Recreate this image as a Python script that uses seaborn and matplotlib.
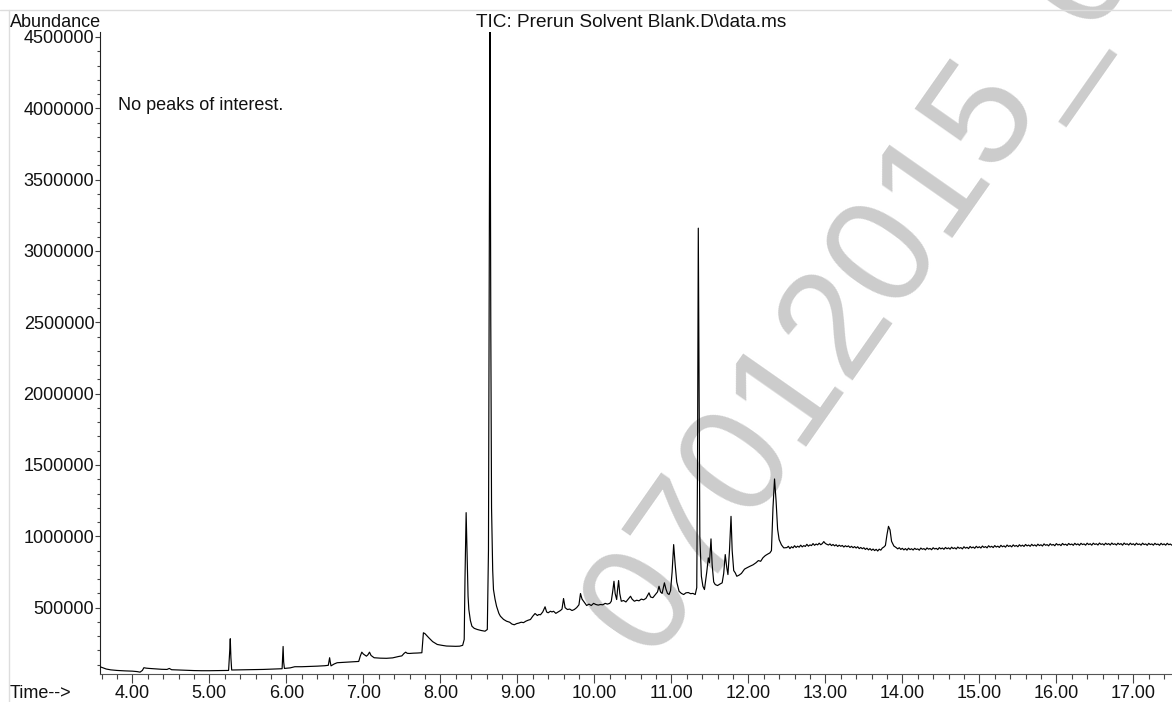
import matplotlib
matplotlib.use("Agg")
import matplotlib.pyplot as plt
from matplotlib.ticker import MultipleLocator, FormatStrFormatter, FuncFormatter
from matplotlib.lines import Line2D
import pandas as pd
import seaborn as sns

# ---- data (time in min, abundance in thousands) ----
t_early = [3.58, 3.62, 3.66, 3.72, 3.80, 3.90, 4.00, 4.06, 4.10, 4.13,
           4.15, 4.18, 4.22, 4.30, 4.38, 4.45, 4.48, 4.51, 4.60, 4.70,
           4.80, 4.90, 5.00, 5.10, 5.20, 5.25, 5.265, 5.272, 5.28, 5.29,
           5.40, 5.50, 5.60, 5.70, 5.80, 5.90, 5.945, 5.952, 5.958, 5.965,
           5.975, 6.05, 6.11, 6.20, 6.30, 6.40, 6.50, 6.545, 6.555, 6.562,
           6.57, 6.58, 6.62, 6.66, 6.75, 6.85, 6.94, 6.96, 6.98, 7.00,
           7.04, 7.06, 7.08, 7.10, 7.14, 7.22, 7.30, 7.38, 7.46, 7.50,
           7.53, 7.55, 7.57, 7.60, 7.65, 7.70, 7.76]
a_early = [86, 78, 70, 64, 60, 57, 55, 52, 48, 60,
           79, 76, 74, 71, 68, 67, 74, 65, 63, 61,
           59, 58, 58, 59, 60, 60, 200, 282, 150, 63,
           64, 65, 66, 67, 69, 71, 72, 160, 228, 120,
           74, 78, 86, 86, 88, 90, 93, 96, 130, 149,
           120, 92, 105, 114, 117, 120, 123, 160, 188, 175,
           160, 170, 188, 165, 149, 146, 145, 148, 158, 162,
           180, 188, 180, 179, 181, 182, 184]

t_mid = [7.78, 7.80, 7.85, 7.90, 7.96, 8.02, 8.08, 8.13, 8.20, 8.25,
         8.29, 8.31, 8.32, 8.335, 8.35, 8.36, 8.37, 8.39, 8.41, 8.44,
         8.48, 8.53, 8.58, 8.61, 8.625, 8.635, 8.645, 8.655, 8.665, 8.68,
         8.69, 8.71, 8.73, 8.76, 8.78]
a_mid = [324, 318, 289, 262, 242, 236, 231, 230, 229, 230,
         236, 277, 700, 1166, 800, 580, 487, 410, 370, 355,
         347, 340, 335, 347, 900, 3000, 4800, 2500, 1200, 760,
         627, 560, 510, 460, 440]

t_main = [8.82, 8.86, 8.90, 8.93, 8.96, 8.99, 9.02, 9.05, 9.08, 9.11,
          9.14, 9.17, 9.20, 9.23, 9.26, 9.28, 9.30, 9.33, 9.36, 9.38,
          9.40, 9.43, 9.45, 9.47, 9.50, 9.53, 9.56, 9.58, 9.60, 9.62,
          9.65, 9.68, 9.71, 9.74, 9.77, 9.80, 9.82, 9.84, 9.86, 9.88,
          9.90, 9.93, 9.96, 9.99, 10.02, 10.05, 10.08, 10.11, 10.14, 10.17,
          10.20, 10.22, 10.24, 10.255, 10.27, 10.29, 10.30, 10.315, 10.33, 10.35,
          10.38, 10.41, 10.44, 10.47, 10.49, 10.52, 10.55, 10.58, 10.61, 10.64,
          10.67, 10.69, 10.71, 10.73, 10.76, 10.79, 10.82, 10.84, 10.86, 10.88,
          10.91, 10.93, 10.95, 10.97, 10.99, 11.01, 11.03, 11.05, 11.07, 11.10,
          11.13, 11.16, 11.19, 11.22, 11.25, 11.28, 11.31, 11.33, 11.34, 11.35,
          11.36, 11.37, 11.39, 11.41, 11.43, 11.46, 11.48, 11.495, 11.515, 11.53,
          11.55, 11.57, 11.60, 11.63, 11.66, 11.68, 11.70, 11.72, 11.735, 11.755,
          11.775, 11.79, 11.81, 11.83, 11.85, 11.88, 11.91, 11.95, 11.98, 12.02,
          12.06, 12.10, 12.13, 12.16, 12.19, 12.22, 12.25, 12.28, 12.30, 12.32,
          12.34, 12.36, 12.38, 12.40, 12.43, 12.46]
a_main = [418, 405, 398, 385, 380, 388, 392, 398, 395, 405,
          412, 417, 440, 459, 445, 452, 450, 470, 506, 470,
          464, 475, 470, 475, 460, 470, 480, 490, 564, 500,
          487, 490, 480, 487, 500, 520, 599, 560, 545, 530,
          515, 525, 515, 530, 522, 518, 522, 520, 530, 525,
          530, 545, 620, 685, 600, 557, 620, 690, 600, 545,
          550, 540, 560, 580, 560, 545, 552, 548, 560, 555,
          565, 585, 604, 575, 570, 590, 610, 650, 610, 600,
          674, 630, 600, 592, 620, 750, 942, 800, 680, 615,
          600, 592, 604, 606, 598, 600, 592, 640, 1500, 3160,
          2000, 1000, 720, 650, 627, 750, 849, 814, 982, 800,
          680, 662, 655, 665, 674, 740, 872, 780, 732, 900,
          1140, 900, 760, 744, 720, 728, 740, 770, 779, 790,
          800, 815, 830, 825, 850, 865, 875, 884, 900, 1200,
          1402, 1250, 1050, 977, 940, 919]

late_pairs = [
    (12.50, 921), (12.52, 930), (12.54, 914), (12.56, 927), (12.58, 919), (12.60, 934), (12.62, 922), (12.64, 931), (12.66, 924), (12.68, 938),
    (12.70, 926), (12.72, 935), (12.74, 929), (12.76, 944), (12.78, 931), (12.80, 940), (12.82, 935), (12.84, 949), (12.86, 937), (12.88, 946),
    (12.90, 940), (12.92, 952), (12.94, 941), (12.96, 949), (12.98, 963), (13.00, 950), (13.02, 944), (13.04, 939), (13.06, 947), (13.08, 935),
    (13.10, 943), (13.12, 933), (13.14, 941), (13.16, 929), (13.18, 938), (13.20, 930), (13.22, 936), (13.24, 925), (13.26, 934), (13.28, 927),
    (13.30, 933), (13.32, 922), (13.34, 930), (13.36, 920), (13.38, 928), (13.40, 918), (13.42, 927), (13.44, 914), (13.46, 922), (13.48, 913),
    (13.50, 920), (13.52, 908), (13.54, 917), (13.56, 905), (13.58, 914), (13.60, 902), (13.62, 911), (13.64, 900), (13.66, 909), (13.68, 897),
    (13.70, 910), (13.72, 903), (13.74, 918), (13.76, 925),
    (13.78, 936), (13.80, 1010), (13.82, 1070), (13.84, 1045), (13.86, 965), (13.89, 932),
    (13.92, 921), (13.94, 912), (13.96, 920), (13.98, 908), (14.00, 916), (14.02, 905), (14.04, 914), (14.06, 903), (14.08, 917), (14.10, 907),
    (14.12, 913), (14.14, 904), (14.16, 916), (14.18, 908), (14.20, 912), (14.22, 903), (14.24, 918), (14.26, 909), (14.28, 914), (14.30, 905),
    (14.32, 919), (14.34, 910), (14.36, 915), (14.38, 906), (14.40, 920), (14.42, 911), (14.44, 916), (14.46, 907), (14.48, 921), (14.50, 912),
    (14.52, 918), (14.54, 909), (14.56, 922), (14.58, 913), (14.60, 919), (14.62, 910), (14.64, 924), (14.66, 914), (14.68, 920), (14.70, 911),
    (14.72, 925), (14.74, 916), (14.76, 921), (14.78, 912), (14.80, 927), (14.82, 917), (14.84, 923), (14.86, 914), (14.88, 929), (14.90, 919),
    (14.92, 925), (14.94, 916), (14.96, 930), (14.98, 920), (15.00, 927), (15.02, 918), (15.04, 932), (15.06, 922), (15.08, 928), (15.10, 919),
    (15.12, 934), (15.14, 924), (15.16, 930), (15.18, 921), (15.20, 935), (15.22, 925), (15.24, 931), (15.26, 922), (15.28, 937), (15.30, 927),
    (15.32, 933), (15.34, 924), (15.36, 939), (15.38, 929), (15.40, 935), (15.42, 926), (15.44, 940), (15.46, 930), (15.48, 936), (15.50, 927),
    (15.52, 941), (15.54, 931), (15.56, 938), (15.58, 929), (15.60, 943), (15.62, 933), (15.64, 939), (15.66, 930), (15.68, 944), (15.70, 934),
    (15.72, 940), (15.74, 931), (15.76, 945), (15.78, 935), (15.80, 941), (15.82, 932), (15.84, 947), (15.86, 937), (15.88, 942), (15.90, 933),
    (15.92, 948), (15.94, 938), (15.96, 943), (15.98, 934), (16.00, 949), (16.02, 939), (16.04, 944), (16.06, 935), (16.08, 950), (16.10, 940),
    (16.12, 945), (16.14, 936), (16.16, 950), (16.18, 941), (16.20, 946), (16.22, 937), (16.24, 951), (16.26, 941), (16.28, 947), (16.30, 937),
    (16.32, 951), (16.34, 942), (16.36, 947), (16.38, 938), (16.40, 952), (16.42, 942), (16.44, 948), (16.46, 938), (16.48, 952), (16.50, 943),
    (16.52, 948), (16.54, 939), (16.56, 953), (16.58, 943), (16.60, 948), (16.62, 939), (16.64, 952), (16.66, 943), (16.68, 949), (16.70, 939),
    (16.72, 953), (16.74, 943), (16.76, 948), (16.78, 939), (16.80, 952), (16.82, 943), (16.84, 949), (16.86, 938), (16.88, 953), (16.90, 943),
    (16.92, 948), (16.94, 939), (16.96, 952), (16.98, 942), (17.00, 948), (17.02, 938), (17.04, 952), (17.06, 942), (17.08, 947), (17.10, 938),
    (17.12, 952), (17.14, 942), (17.16, 947), (17.18, 937), (17.20, 951), (17.22, 942), (17.24, 947), (17.26, 938), (17.28, 951), (17.30, 942),
    (17.32, 946), (17.34, 937), (17.36, 951), (17.38, 941), (17.40, 947), (17.42, 938), (17.44, 951), (17.46, 941), (17.48, 946), (17.50, 938),
    (17.52, 945),
]
t_late = [p[0] for p in late_pairs]
a_late = [p[1] for p in late_pairs]

x_ticks = [4, 5, 6, 7, 8, 9, 10, 11, 12, 13, 14, 15, 16, 17]
y_ticks = [500000, 1000000, 1500000, 2000000, 2500000, 3000000, 3500000, 4000000, 4500000]

title_text = "TIC: Prerun Solvent Blank.D\\data.ms"
note_text = "No peaks of interest."
watermark_text = "07012015_0"

# ---- build table ----
times = t_early + t_mid + t_main + t_late
abund = [v * 1000 for v in (a_early + a_mid + a_main + a_late)]
df = pd.DataFrame({"time": times, "abundance": abund})

sns.set_style("ticks")
plt.rcParams["font.family"] = ["Liberation Sans", "DejaVu Sans"]

W, H = 1172, 702
fig = plt.figure(figsize=(W / 100, H / 100), dpi=100)
fig.patch.set_facecolor("white")
ax = fig.add_axes([100 / W, 1 - 674 / H, 1 - 100 / W, (674 - 32) / H])
ax.set_facecolor("none")

sns.lineplot(data=df, x="time", y="abundance", ax=ax, color="black",
             linewidth=0.85, estimator=None, sort=False, zorder=3)

ax.set_xlim(3.58, 17.502)
ax.set_ylim(35000, 4535000)
ax.set_xlabel("")
ax.set_ylabel("")

ax.set_xticks(x_ticks)
ax.xaxis.set_minor_locator(MultipleLocator(0.2))
ax.xaxis.set_major_formatter(FormatStrFormatter("%.2f"))
ax.set_yticks(y_ticks)
ax.yaxis.set_minor_locator(MultipleLocator(100000))
ax.yaxis.set_major_formatter(FuncFormatter(lambda v, p: f"{int(round(v))}"))

for s in ["top", "right"]:
    ax.spines[s].set_visible(False)
ax.spines["left"].set_color("#222222")
ax.spines["left"].set_linewidth(0.8)
ax.spines["bottom"].set_color("#555555")
ax.spines["bottom"].set_linewidth(0.8)

ax.tick_params(axis="x", which="major", length=6.2, width=0.8, pad=1.9,
               direction="out", labelsize=13, color="#444444", labelcolor="#111111")
ax.tick_params(axis="x", which="minor", length=3.4, width=0.8, direction="out",
               color="#444444")
ax.tick_params(axis="y", which="major", length=3.6, width=0.8, pad=0.5,
               direction="out", labelsize=13, color="#444444", labelcolor="#111111")
ax.tick_params(axis="y", which="minor", length=2.4, width=0.8, direction="out",
               color="#444444")

# watermark (behind the trace)
ax.text(651 / W, 1 - 660 / H, watermark_text, transform=fig.transFigure,
        rotation=55, rotation_mode="anchor", ha="left", va="baseline",
        fontsize=110, color="#cccccc", zorder=0.5, clip_on=False)

# page frame lines
fig.add_artist(Line2D([0, 1], [1 - 10 / H, 1 - 10 / H], transform=fig.transFigure,
                      color="#dddddd", linewidth=1))
fig.add_artist(Line2D([9.5 / W, 9.5 / W], [0, 1 - 10 / H], transform=fig.transFigure,
                      color="#dddddd", linewidth=1))

# texts
fig.text(10 / W, 1 - 27 / H, "Abundance", fontsize=13, ha="left", va="baseline",
         color="#111111")
fig.text(476 / W, 1 - 27 / H, title_text, fontsize=13.7, ha="left", va="baseline",
         color="#111111")
fig.text(10 / W, 1 - 698.5 / H, "Time-->", fontsize=13, ha="left", va="baseline",
         color="#111111")
fig.text(118 / W, 1 - 110 / H, note_text, fontsize=13, ha="left", va="baseline",
         color="#111111")

fig.savefig("out.png", dpi=100, facecolor="white")
